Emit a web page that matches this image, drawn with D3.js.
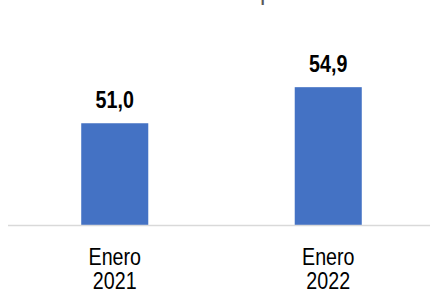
<!DOCTYPE html>
<html>
<head>
<meta charset="utf-8">
<script src="https://cdn.jsdelivr.net/npm/d3@7"></script>
<style>
  body { margin: 0; background: #fff; }
  svg { display: block; }
  text { font-family: "Liberation Sans", Arial, sans-serif; }
</style>
</head>
<body>
<script>
// chart data
var categories = ["Enero 2021", "Enero 2022"];
var values = [51.0, 54.9];
var labels = ["51,0", "54,9"];
var title = "Tasa de Ocupación";

(function(){
	var width = 430,
		height = 289;

	//narrow font is not installed, squeeze text horizontally instead
	var narrow = 0.82;

	var svg = d3.select("body")
		.append("svg")
		.attr("width", width)
		.attr("height", height);

	//x band scale, bars are narrow compared to step
	var x = d3.scaleBand()
		.domain(categories)
		.range([8, 435])
		.paddingInner(0.686)
		.paddingOuter(0.343);

	var y = d3.scaleLinear()
		.domain([40, 60])
		.range([225, 40]);

	//title, mostly cut off at top
	svg.append("text")
		.attr("x", 228)
		.attr("y", 0.4)
		.attr("text-anchor", "middle")
		.attr("fill", "#595959")
		.style("font-size", "24px")
		.text(title);

	//bars
	svg.selectAll(".bar")
		.data(values)
		.enter()
		.append("rect")
		.attr("class", "bar")
		.attr("x", function(d, i){ return x(categories[i]); })
		.attr("y", function(d){ return y(d); })
		.attr("width", x.bandwidth())
		.attr("height", function(d){ return y(40) - y(d); })
		.attr("fill", "#4472c4");

	//axis line
	svg.append("line")
		.attr("x1", 8)
		.attr("x2", width)
		.attr("y1", y(40) + 0.5)
		.attr("y2", y(40) + 0.5)
		.attr("stroke", "#d9d9d9")
		.attr("stroke-width", 1.5);

	//value labels
	svg.selectAll(".val")
		.data(values)
		.enter()
		.append("text")
		.attr("class", "val")
		.attr("transform", function(d, i){
			var cx = x(categories[i]) + x.bandwidth() / 2;
			return "translate(" + cx + "," + (y(d) - 15) + ") scale(" + narrow + ",1)";
		})
		.attr("text-anchor", "middle")
		.attr("fill", "#000")
		.style("font-size", "24px")
		.style("font-weight", "bold")
		.text(function(d, i){ return labels[i]; });

	//category labels on two lines
	var cat = svg.selectAll(".cat")
		.data(categories)
		.enter()
		.append("text")
		.attr("class", "cat")
		.attr("transform", function(d){
			var cx = x(d) + x.bandwidth() / 2;
			return "translate(" + cx + ",265) scale(" + narrow + ",1)";
		})
		.attr("text-anchor", "middle")
		.attr("fill", "#000")
		.style("font-size", "24px");

	cat.selectAll("tspan")
		.data(function(d){ return d.split(" "); })
		.enter()
		.append("tspan")
		.attr("x", 0)
		.attr("y", function(d, i){ return i * 24; })
		.text(function(d){ return d; });
})();
</script>
</body>
</html>
